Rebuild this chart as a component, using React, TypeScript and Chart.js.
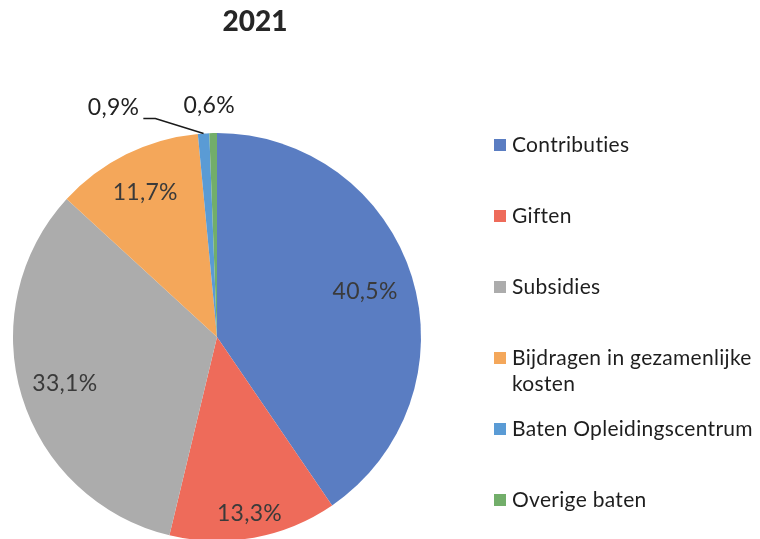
import React, { useEffect, useRef } from "react";
import { Chart, registerables } from "chart.js";

Chart.register(...registerables);

const chartTitle = "2021";
const categories = [
  "Contributies",
  "Giften",
  "Subsidies",
  "Bijdragen in gezamenlijke kosten",
  "Baten Opleidingscentrum",
  "Overige baten",
];
const legendLines = [
  ["Contributies"],
  ["Giften"],
  ["Subsidies"],
  ["Bijdragen in gezamenlijke", "kosten"],
  ["Baten Opleidingscentrum"],
  ["Overige baten"],
];
const values = [40.5, 13.3, 33.1, 11.7, 0.9, 0.6];
const valueLabels = ["40,5%", "13,3%", "33,1%", "11,7%", "0,9%", "0,6%"];
const colors = ["#5A7DC2", "#EE6B5A", "#ACACAC", "#F4A75A", "#5A9BD5", "#72AE6A"];

const FONT = "Lato, 'Open Sans', sans-serif";

const overlayPlugin = {
  id: "overlay",
  afterDatasetsDraw(chart: any) {
    const ctx = chart.ctx as any;
    const meta = chart.getDatasetMeta(0);
    const radial = [0.76, 0.88, 0.78, 0.79];
    ctx.save();
    ctx.letterSpacing = "0.3px";
    ctx.textAlign = "center";
    ctx.textBaseline = "middle";
    ctx.font = `23px ${FONT}`;
    meta.data.forEach((arc: any, i: number) => {
      const p = arc.getProps(["x", "y", "startAngle", "endAngle", "outerRadius"], true);
      const mid = (p.startAngle + p.endAngle) / 2;
      const ox = p.x + Math.cos(mid) * p.outerRadius;
      const oy = p.y + Math.sin(mid) * p.outerRadius;
      if (i < 4) {
        const r = p.outerRadius * radial[i];
        ctx.fillStyle = "#3a3a3a";
        ctx.fillText(valueLabels[i], p.x + Math.cos(mid) * r, p.y + Math.sin(mid) * r);
      } else if (i === 4) {
        const lx = ox - 90;
        const ly = oy - 26;
        ctx.fillStyle = "#222";
        ctx.fillText(valueLabels[i], lx, ly);
        const w = ctx.measureText(valueLabels[i]).width;
        ctx.strokeStyle = "#1a1a1a";
        ctx.lineWidth = 1.5;
        ctx.beginPath();
        ctx.moveTo(lx + w / 2 + 4, ly + 11);
        ctx.lineTo(lx + w / 2 + 16, ly + 11);
        ctx.lineTo(ox, oy);
        ctx.stroke();
      } else {
        ctx.fillStyle = "#222";
        ctx.fillText(valueLabels[i], ox - 4, oy - 27);
      }
    });
    ctx.restore();
  },
  afterDraw(chart: any) {
    const ctx = chart.ctx as any;
    ctx.save();
    ctx.fillStyle = "#262626";
    ctx.textAlign = "center";
    ctx.textBaseline = "middle";
    ctx.font = `900 28px ${FONT}`;
    ctx.fillText(chartTitle, 255, 22);

    ctx.letterSpacing = "0.3px";
    ctx.textAlign = "left";
    ctx.font = `21px ${FONT}`;
    const x0 = 494;
    const y0 = 145;
    const step = 71;
    legendLines.forEach((lines, i) => {
      const y = y0 + step * i;
      ctx.fillStyle = colors[i];
      ctx.fillRect(x0, y - 6, 12, 12);
      ctx.fillStyle = "#1e1e1e";
      lines.forEach((t, j) => {
        ctx.fillText(t, x0 + 18, y + j * 26);
      });
    });
    ctx.restore();
  },
};

export default function App() {
  const ref = useRef<HTMLCanvasElement>(null);
  useEffect(() => {
    document.body.style.margin = "0";
    const chart = new Chart(ref.current as HTMLCanvasElement, {
      type: "pie",
      data: {
        labels: categories,
        datasets: [
          {
            data: values,
            backgroundColor: colors,
            borderWidth: 0,
          },
        ],
      },
      options: {
        responsive: false,
        animation: false,
        devicePixelRatio: 1,
        layout: { padding: { left: 13, right: 339, top: 133, bottom: 4 } },
        plugins: {
          legend: { display: false },
          tooltip: { enabled: false },
          title: { display: false },
        },
      },
      plugins: [overlayPlugin],
    });
    return () => chart.destroy();
  }, []);
  return (
    <div style={{ width: 760, height: 539, overflow: "hidden", position: "relative", background: "#fff" }}>
      <canvas ref={ref} width={760} height={545} style={{ display: "block" }} />
    </div>
  );
}
